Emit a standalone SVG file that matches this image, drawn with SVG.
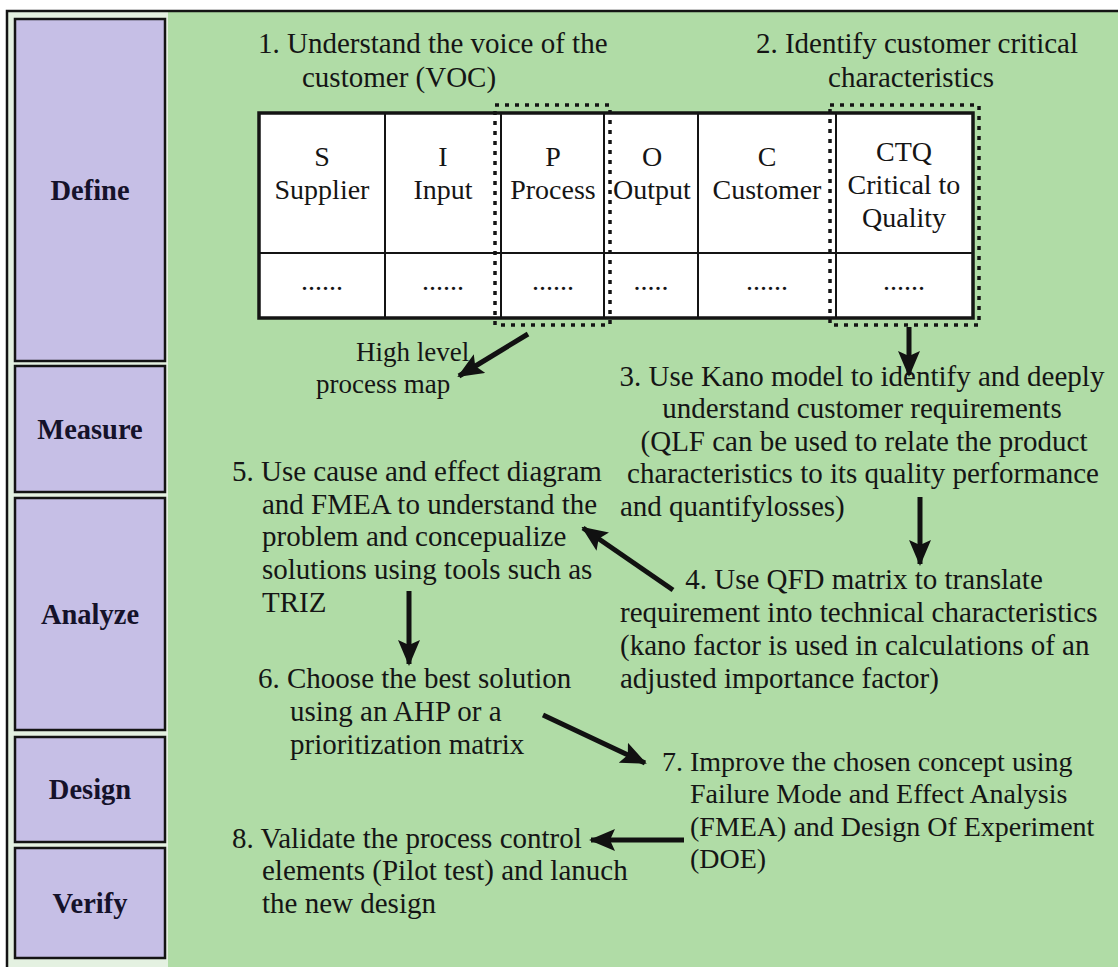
<svg xmlns="http://www.w3.org/2000/svg" width="1118" height="967" viewBox="0 0 1118 967">
  <style>
    .t { font-family: "Liberation Serif", "Times New Roman", serif; font-size: 29px; fill: #151515; }
    .tb { font-family: "Liberation Serif", "Times New Roman", serif; font-size: 28px; fill: #151515; text-anchor: middle; }
    .c { text-anchor: middle; }
    .phase rect { fill: #c6bfe6; stroke: #141414; stroke-width: 2.5; }
    .phase text { font-family: "Liberation Serif", "Times New Roman", serif; font-size: 28.5px; font-weight: bold; fill: #15122a; text-anchor: middle; }
    .cell { fill: #ffffff; stroke: none; }
    .grid { stroke: #141414; stroke-width: 2; fill: none; }
    .frame { stroke: #141414; stroke-width: 3.5; fill: none; }
    .dots { stroke: #141414; stroke-width: 3.5; fill: none; stroke-dasharray: 4 6; }
    .arrow { stroke: #111; stroke-width: 5; fill: none; marker-end: url(#head); }
  </style>
  <defs>
    <marker id="head" markerUnits="userSpaceOnUse" markerWidth="26" markerHeight="22" refX="24" refY="11" orient="auto">
      <path d="M0,0 L26,11 L0,22 L5,11 Z" fill="#111"/>
    </marker>
  </defs>

  <!-- page background and outer frame -->
  <rect x="0" y="0" width="1118" height="967" fill="#ffffff"/>
  <rect x="7" y="11" width="1111" height="956" fill="#b0dca6"/>
  <rect x="8" y="12" width="160" height="955" fill="#e4f1e1"/>
  <path d="M7,967 V11 H1118" stroke="#141414" stroke-width="2.5" fill="none"/>

  <!-- DFSS phases -->
  <g id="define" class="phase"><rect x="15" y="19" width="150" height="342"/><text x="90" y="200">Define</text></g>
  <g id="measure" class="phase"><rect x="15" y="366" width="150" height="126"/><text x="90" y="439">Measure</text></g>
  <g id="analyze" class="phase"><rect x="15" y="498" width="150" height="232"/><text x="90" y="624">Analyze</text></g>
  <g id="design" class="phase"><rect x="15" y="737" width="150" height="105"/><text x="90" y="799">Design</text></g>
  <g id="verify" class="phase"><rect x="15" y="848" width="150" height="110"/><text x="90" y="913">Verify</text></g>

  <!-- step 1 and 2 headings -->
  <g id="step1">
    <text class="t" x="258" y="53">1. Understand the voice of the</text>
    <text class="t" x="302" y="87">customer (VOC)</text>
  </g>
  <g id="step2">
    <text class="t c" x="917" y="53">2. Identify customer critical</text>
    <text class="t c" x="911" y="87">characteristics</text>
  </g>

  <!-- SIPOC + CTQ table -->
  <g id="sipoc">
    <rect class="cell" x="259" y="113" width="714" height="205"/>
    <path class="grid" d="M259,253 H973 M385,113 V318 M501,113 V318 M604,113 V318 M698,113 V318 M836,113 V318"/>
    <rect class="frame" x="259" y="113" width="714" height="205"/>
    <text class="tb" x="322" y="166">S</text>
    <text class="tb" x="322" y="199">Supplier</text>
    <text class="tb" x="443" y="166">I</text>
    <text class="tb" x="443" y="199">Input</text>
    <text class="tb" x="553" y="166">P</text>
    <text class="tb" x="553" y="199">Process</text>
    <text class="tb" x="652" y="166">O</text>
    <text class="tb" x="652" y="199">Output</text>
    <text class="tb" x="767" y="166">C</text>
    <text class="tb" x="767" y="199">Customer</text>
    <text class="tb" x="904" y="161">CTQ</text>
    <text class="tb" x="904" y="194">Critical to</text>
    <text class="tb" x="904" y="227">Quality</text>
    <text class="tb" x="322" y="290">......</text>
    <text class="tb" x="443" y="290">......</text>
    <text class="tb" x="553" y="290">......</text>
    <text class="tb" x="651" y="290">.....</text>
    <text class="tb" x="767" y="290">......</text>
    <text class="tb" x="904" y="290">......</text>
    <rect class="dots" x="495" y="105" width="115" height="220"/>
    <rect class="dots" x="830" y="105" width="149" height="220"/>
  </g>

  <g id="process-map">
    <text class="t" x="356" y="361" style="font-size:27px">High level</text>
    <text class="t" x="316" y="393" style="font-size:27px">process map</text>
  </g>

  <g id="step3">
    <text class="t c" x="862" y="386">3. Use Kano model to identify and deeply</text>
    <text class="t c" x="862" y="418">understand customer requirements</text>
    <text class="t c" x="864" y="451">(QLF can be used to relate the product</text>
    <text class="t c" x="863" y="483">characteristics to its quality performance</text>
    <text class="t" x="620" y="516">and quantifylosses)</text>
  </g>

  <g id="step4">
    <text class="t c" x="864" y="589">4. Use QFD matrix to translate</text>
    <text class="t" x="620" y="622">requirement into technical characteristics</text>
    <text class="t" x="620" y="655">(kano factor is used in calculations of an</text>
    <text class="t" x="620" y="688">adjusted importance factor)</text>
  </g>

  <g id="step5">
    <text class="t" x="232" y="481">5. Use cause and effect diagram</text>
    <text class="t" x="262" y="514">and FMEA to understand the</text>
    <text class="t" x="262" y="546">problem and concepualize</text>
    <text class="t" x="262" y="579">solutions using tools such as</text>
    <text class="t" x="262" y="612">TRIZ</text>
  </g>

  <g id="step6">
    <text class="t" x="258" y="688">6. Choose the best solution</text>
    <text class="t" x="290" y="721">using an AHP or a</text>
    <text class="t" x="290" y="754">prioritization matrix</text>
  </g>

  <g id="step7" style="font-size:28px">
    <text class="t" x="662" y="771" style="font-size:28px">7. Improve the chosen concept using</text>
    <text class="t" x="690" y="803" style="font-size:28px">Failure Mode and Effect Analysis</text>
    <text class="t" x="690" y="836" style="font-size:28px">(FMEA) and Design Of Experiment</text>
    <text class="t" x="690" y="868" style="font-size:28px">(DOE)</text>
  </g>

  <g id="step8">
    <text class="t" x="232" y="848">8. Validate the process control</text>
    <text class="t" x="262" y="880">elements (Pilot test) and lanuch</text>
    <text class="t" x="262" y="913">the new design</text>
  </g>

  <!-- connectors -->
  <g id="connectors">
    <line class="arrow" x1="528" y1="334" x2="459" y2="376"/>
    <line class="arrow" x1="909" y1="327" x2="909" y2="375"/>
    <line class="arrow" x1="920" y1="497" x2="920" y2="564"/>
    <line class="arrow" x1="673" y1="590" x2="583" y2="528"/>
    <line class="arrow" x1="409" y1="591" x2="409" y2="664"/>
    <line class="arrow" x1="543" y1="715" x2="645" y2="763"/>
    <line class="arrow" x1="684" y1="840" x2="591" y2="840"/>
  </g>
</svg>
